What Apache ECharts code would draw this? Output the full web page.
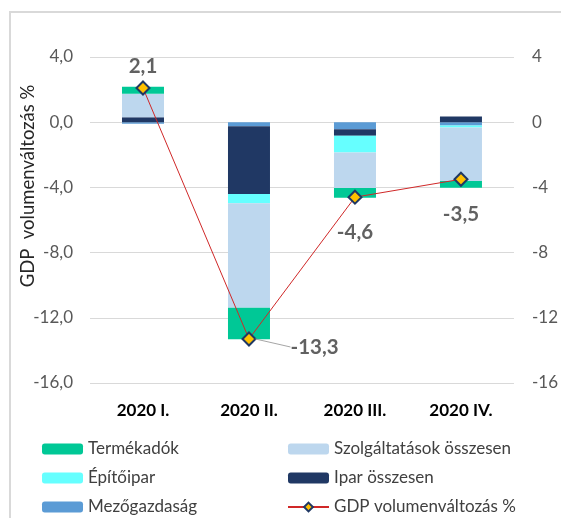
<!DOCTYPE html>
<html>
<head>
<meta charset="utf-8">
<script src="https://cdn.jsdelivr.net/npm/echarts@6/dist/echarts.min.js"></script>
<style>
  html, body { margin: 0; padding: 0; background: #ffffff; }
  #chart { width: 561px; height: 518px; }
</style>
</head>
<body>
<div id="chart"></div>
<script>
  // negyedévek
  const categories = ['2020 I.', '2020 II.', '2020 III.', '2020 IV.'];

  // hozzájárulások (százalékpont)
  const mezogazdasag = [-0.1, -0.25, -0.43, -0.2];
  const ipar = [0.3, -4.15, -0.4, 0.35];
  const epitoipar = [0, -0.57, -1.03, -0.12];
  const szolgaltatasok = [1.45, -6.42, -2.17, -3.28];
  const termekadok = [0.43, -1.93, -0.6, -0.42];

  // GDP volumenváltozás %
  const gdp = [2.1, -13.3, -4.6, -3.5];

  // tengely
  const axisMin = -16;
  const axisMax = 4;
  const axisStep = 4;

  const font = 'Lato, "Liberation Sans", sans-serif';
  const comma = (v, d) => v.toFixed(d).replace('.', ',');

  function barSeries(name, data, color) {
    return {
      name: name,
      type: 'bar',
      stack: 'osszes',
      barWidth: 42,
      itemStyle: { color: color },
      data: data
    };
  }

  function legendColumn(left, names) {
    return {
      orient: 'vertical',
      left: left,
      top: 434,
      height: 100,
      itemWidth: 41,
      itemHeight: 11,
      itemGap: 9,
      textStyle: { fontFamily: font, fontSize: 17, color: '#404040', lineHeight: 20 },
      data: names
    };
  }

  let myChart = echarts.init(document.getElementById('chart'));

  // címkék helye a jelölőhöz képest
  const labelPlace = [
    { position: 'top', distance: 5 },
    { position: 'right', distance: 5 },
    { position: 'bottom', distance: 18 },
    { position: 'bottom', distance: 18 }
  ];

  let option = {
    backgroundColor: '#ffffff',
    animation: false,
    textStyle: { fontFamily: font },
    graphic: [
      {
        type: 'rect',
        shape: { x: 10, y: 12, width: 700, height: 700 },
        style: { fill: 'none', stroke: '#d9d9d9', lineWidth: 2 },
        silent: true
      }
    ],
    grid: { left: 90, right: 45, top: 57, bottom: 135 },
    legend: [
      legendColumn(37, ['Termékadók', 'Építőipar', 'Mezőgazdaság']),
      legendColumn(282, ['Szolgáltatások összesen', 'Ipar összesen', 'GDP volumenváltozás %'])
    ],
    xAxis: {
      type: 'category',
      data: categories,
      axisLine: { show: false, onZero: false },
      axisTick: { show: false },
      axisLabel: {
        margin: 19,
        fontFamily: font,
        fontSize: 17,
        fontWeight: 'bold',
        color: '#000000'
      }
    },
    yAxis: [
      {
        type: 'value',
        min: axisMin,
        max: axisMax,
        interval: axisStep,
        name: 'GDP  volumenváltozás %',
        nameLocation: 'middle',
        nameRotate: 90,
        nameGap: 52,
        nameMoveOverlap: false,
        nameTextStyle: { fontFamily: font, fontSize: 18.5, color: '#262626', padding: [0, 0, 0, 68] },
        axisLine: { show: false },
        axisTick: { show: false },
        axisLabel: {
          margin: 17,
          fontFamily: font,
          fontSize: 17,
          color: '#595959',
          formatter: v => comma(v, 1)
        },
        splitLine: { lineStyle: { color: '#d9d9d9', width: 1 } }
      },
      {
        type: 'value',
        min: axisMin,
        max: axisMax,
        interval: axisStep,
        position: 'right',
        axisLine: { show: false },
        axisTick: { show: false },
        axisLabel: {
          margin: 18,
          fontFamily: font,
          fontSize: 17,
          color: '#595959',
          formatter: v => String(v)
        },
        splitLine: { show: false }
      }
    ],
    series: [
      barSeries('Mezőgazdaság', mezogazdasag, '#5b9bd5'),
      barSeries('Ipar összesen', ipar, '#203864'),
      barSeries('Építőipar', epitoipar, '#66ffff'),
      barSeries('Szolgáltatások összesen', szolgaltatasok, '#bdd7ee'),
      barSeries('Termékadók', termekadok, '#00c896'),
      {
        name: 'GDP volumenváltozás %',
        type: 'line',
        z: 5,
        symbol: 'diamond',
        symbolSize: 13,
        lineStyle: { color: '#d02828', width: 1 },
        itemStyle: { color: '#ffc000', borderColor: '#1f3864', borderWidth: 2 },
        data: gdp
      },
      {
        // csak az értékcímkékhez
        name: 'GDP címkék',
        type: 'scatter',
        z: 6,
        silent: true,
        symbol: 'diamond',
        symbolSize: 13,
        itemStyle: { color: 'rgba(0,0,0,0)' },
        label: {
          show: true,
          fontFamily: font,
          fontSize: 20.5,
          fontWeight: 'bold',
          color: '#3a3a3a',
          formatter: p => comma(p.value, 1)
        },
        labelLine: { show: false, lineStyle: { color: '#a6a6a6', width: 1 } },
        labelLayout: function (params) {
          // a -13,3 címke jobbra kerül, vezetővonallal
          if (params.dataIndex === 1) {
            return { dx: 30, dy: 8, hideOverlap: false };
          }
          return { hideOverlap: false };
        },
        data: gdp.map((v, i) => ({
          value: v,
          label: { position: labelPlace[i].position, distance: labelPlace[i].distance },
          labelLine: { show: i === 1 }
        }))
      }
    ]
  };

  if (option && typeof option === 'object') {
    myChart.setOption(option, true);
  }
  window.addEventListener('resize', function () {
    myChart.resize();
  });
</script>
</body>
</html>
